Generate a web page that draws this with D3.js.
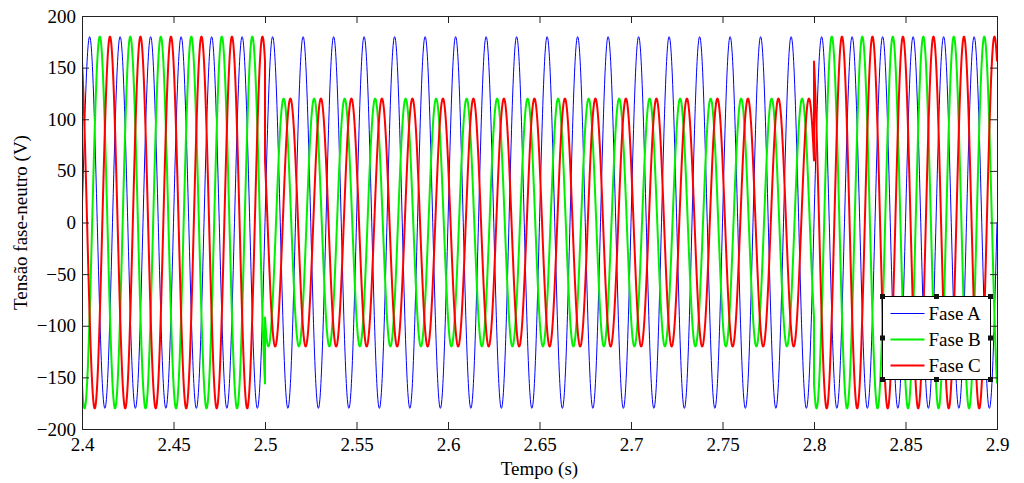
<!DOCTYPE html>
<html>
<head>
<meta charset="utf-8">
<script src="https://cdn.jsdelivr.net/npm/d3@7"></script>
<style>
  html, body { margin: 0; padding: 0; background: #fff; }
  svg { display: block; font-family: "Liberation Serif", "Times New Roman", serif; }
</style>
</head>
<body>
<svg id="chart" width="1024" height="483"></svg>
<script>
// ---- Data ----
const freqHz = 60;                               // waveform frequency
const segStart = [2.4, 2.5, 2.8];                // segment start times (s)
const segEnd   = [2.5, 2.8, 2.9];                // segment end times (s)
const phaseNames = ["Fase A", "Fase B", "Fase C"];
const ampA = [180, 180, 180];                    // peak voltage per segment (V)
const ampB = [180, 120, 180];
const ampC = [180, 120, 180];
const angA = [0, 0, 0];                          // phase angle per segment (deg)
const angB = [-120, -130, -120];
const angC = [120, 150, 120];
const xTicks = [2.4, 2.45, 2.5, 2.55, 2.6, 2.65, 2.7, 2.75, 2.8, 2.85, 2.9];
const yTicks = [-200, -150, -100, -50, 0, 50, 100, 150, 200];
const colors = ["#0000ff", "#00f000", "#ff0000"];
const widths = [1, 2, 2];

// ---- Layout ----
const W = 1024, H = 483;
const m = { left: 82, right: 27, top: 16, bottom: 54 };
const svg = d3.select("#chart");
const x = d3.scaleLinear().domain([2.4, 2.9]).range([m.left, W - m.right]);
const y = d3.scaleLinear().domain([-200, 200]).range([H - m.bottom, m.top]);

// build sampled waveforms from the segment parameters
function buildSeries(amp, ang) {
  const pts = [];
  const n = 120; // samples per cycle
  for (let s = 0; s < segStart.length; s++) {
    const t0 = segStart[s], t1 = segEnd[s];
    const steps = Math.round((t1 - t0) * freqHz * n);
    for (let i = 0; i <= steps; i++) {
      const t = t0 + (t1 - t0) * i / steps;
      const v = amp[s] * Math.sin(2 * Math.PI * freqHz * t + ang[s] * Math.PI / 180);
      pts.push([t, v]);
    }
  }
  return pts;
}
const series = [buildSeries(ampA, angA), buildSeries(ampB, angB), buildSeries(ampC, angC)];

svg.append("defs").append("clipPath").attr("id", "clip")
  .append("rect").attr("x", m.left).attr("y", m.top)
  .attr("width", W - m.left - m.right).attr("height", H - m.top - m.bottom);

const line = d3.line().x(d => x(d[0])).y(d => y(d[1]));
const g = svg.append("g").attr("clip-path", "url(#clip)");
series.forEach((s, i) => {
  g.append("path").datum(s).attr("d", line)
    .attr("fill", "none").attr("stroke", colors[i])
    .attr("stroke-width", widths[i]).attr("stroke-linejoin", "round");
});

// ---- Axes (MATLAB style: inward ticks on all four sides) ----
const tickLen = 7;
const fmtX = d => String(+d.toFixed(2));
const axB = svg.append("g").attr("transform", `translate(0,${H - m.bottom})`)
  .call(d3.axisBottom(x).tickValues(xTicks).tickSizeInner(-tickLen).tickSizeOuter(0).tickPadding(9).tickFormat(fmtX));
const axT = svg.append("g").attr("transform", `translate(0,${m.top})`)
  .call(d3.axisTop(x).tickValues(xTicks).tickSizeInner(-tickLen).tickSizeOuter(0).tickFormat(""));
const axL = svg.append("g").attr("transform", `translate(${m.left},0)`)
  .call(d3.axisLeft(y).tickValues(yTicks).tickSizeInner(-tickLen).tickSizeOuter(0).tickPadding(6).tickFormat(d3.format("d")));
const axR = svg.append("g").attr("transform", `translate(${W - m.right},0)`)
  .call(d3.axisRight(y).tickValues(yTicks).tickSizeInner(-tickLen).tickSizeOuter(0).tickFormat(""));
[axB, axT, axL, axR].forEach(a => {
  a.selectAll(".domain").remove();
  a.selectAll("line").attr("stroke", "#222");
  a.selectAll("text").attr("fill", "#000").style("font-size", "19px")
    .style("font-family", "'Liberation Serif', 'Times New Roman', serif");
});
// box
svg.append("rect").attr("x", m.left + 0.5).attr("y", m.top + 0.5)
  .attr("width", W - m.left - m.right).attr("height", H - m.top - m.bottom)
  .attr("fill", "none").attr("stroke", "#222").attr("stroke-width", 1);

// axis titles
svg.append("text").attr("x", (m.left + W - m.right) / 2).attr("y", 475)
  .attr("text-anchor", "middle").style("font-size", "19px").text("Tempo (s)");
svg.append("text").attr("transform", `translate(27,${(m.top + H - m.bottom) / 2}) rotate(-90)`)
  .attr("text-anchor", "middle").style("font-size", "19px").text("Tensão fase-neutro (V)");

// ---- Legend ----
const lg = { x: 882.5, y: 296.5, w: 108, h: 83 };
const leg = svg.append("g");
leg.append("rect").attr("x", lg.x).attr("y", lg.y).attr("width", lg.w).attr("height", lg.h)
  .attr("fill", "#fff").attr("stroke", "#000").attr("stroke-width", 1);
phaseNames.forEach((name, i) => {
  const yy = lg.y + 17 + i * 26;
  leg.append("line").attr("x1", lg.x + 8).attr("x2", lg.x + 42).attr("y1", yy).attr("y2", yy)
    .attr("stroke", colors[i]).attr("stroke-width", widths[i]);
  leg.append("text").attr("x", lg.x + 46).attr("y", yy + 6.5).style("font-size", "19px").text(name);
});
// selection handles
const hs = 5;
[[0,0],[0.5,0],[1,0],[0,0.5],[1,0.5],[0,1],[0.5,1],[1,1]].forEach(([fx, fy]) => {
  leg.append("rect").attr("x", lg.x + fx * lg.w - hs / 2).attr("y", lg.y + fy * lg.h - hs / 2)
    .attr("width", hs).attr("height", hs).attr("fill", "#111");
});
</script>
</body>
</html>
